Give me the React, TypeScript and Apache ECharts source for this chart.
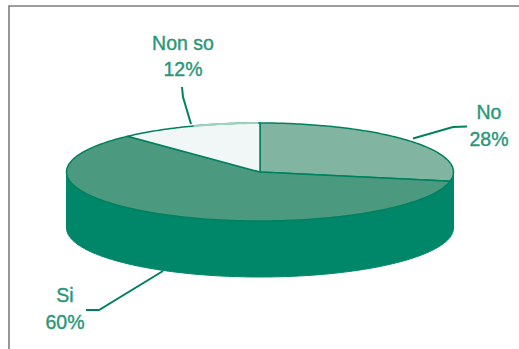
import React, { useEffect, useRef } from "react";
import * as echarts from "echarts";

// Survey answers, in clockwise order from twelve o'clock.
const categories = ["No", "Si", "Non so"];
const shares = [28, 60, 12];
const percentLabels = ["28%", "60%", "12%"];

const topColors = ["#82b5a1", "#4b9a80", "#f1f7f6"];
const WALL = "#00876a";
const EDGE = "#00805f";
const PALE_RIM = "#a3d0c0";
const TEXT = "#2a9777";
const FONT = '19.5px "Liberation Sans", Arial, sans-serif';

// Disc geometry: a tilted circle seen as an ellipse, with a cylindrical wall below it.
const CX = 260;
const CY = 172;
const RX = 193.5;
const RY = 49;
const DEPTH = 56;

// Callout layout for each slice: label centre and leader line.
const labelAnchors = [
  { x: 489, y1: 112, y2: 139 },
  { x: 65, y1: 295, y2: 322 },
  { x: 183, y1: 43, y2: 69 },
];
const leaders = [
  [[467, 126.5], [453, 127], [413, 138.5]],
  [[86, 310], [99, 310], [163, 271]],
  [[182, 87], [183, 97], [191, 124]],
];

// A clock angle (degrees from twelve o'clock) projected onto the ellipse.
const onRim = (deg: number, dy = 0): number[] => {
  const a = (deg * Math.PI) / 180;
  return [CX + RX * Math.sin(a), CY - RY * Math.cos(a) + dy];
};

const arcPoints = (from: number, to: number, dy = 0): number[][] => {
  const steps = Math.max(2, Math.ceil(Math.abs(to - from)));
  const pts: number[][] = [];
  for (let i = 0; i <= steps; i++) pts.push(onRim(from + ((to - from) * i) / steps, dy));
  return pts;
};

const total = shares.reduce((s, v) => s + v, 0);

const renderSlice = (params: any, api: any) => {
  const i = params.dataIndex;
  const value = api.value(0) as number;
  const before = shares.slice(0, i).reduce((s, v) => s + v, 0);
  const start = (before / total) * 360;
  const end = ((before + value) / total) * 360;

  const children: any[] = [];

  // The wall is only visible along the front half of the rim.
  const wallFrom = Math.max(start, 90);
  const wallTo = Math.min(end, 270);
  if (wallTo > wallFrom) {
    const upper = arcPoints(wallFrom, wallTo);
    const lower = arcPoints(wallTo, wallFrom, DEPTH);
    children.push({
      type: "polygon",
      shape: { points: [...upper, ...lower] },
      style: { fill: WALL, stroke: WALL, lineWidth: 1 },
    });
  }

  children.push({
    type: "polygon",
    shape: { points: [[CX, CY], ...arcPoints(start, end)] },
    style: { fill: topColors[i], stroke: EDGE, lineWidth: 1.5 },
  });

  // The last stretch of rim before twelve o'clock fades to a paler tint.
  if (end === 360) {
    children.push({
      type: "polyline",
      shape: { points: arcPoints(340, 359.4) },
      style: { fill: "none", stroke: PALE_RIM, lineWidth: 2 },
    });
  }

  children.push({
    type: "polyline",
    shape: { points: leaders[i] },
    style: { fill: "none", stroke: EDGE, lineWidth: 2 },
  });

  const anchor = labelAnchors[i];
  [
    { text: categories[i], y: anchor.y1 },
    { text: percentLabels[i], y: anchor.y2 },
  ].forEach((line) => {
    children.push({
      type: "text",
      style: {
        x: anchor.x,
        y: line.y,
        text: line.text,
        font: FONT,
        fill: TEXT,
        stroke: TEXT,
        lineWidth: 0.4,
        textAlign: "center",
        textVerticalAlign: "middle",
      },
    });
  });

  return { type: "group", children };
};

export default function App() {
  const ref = useRef<HTMLDivElement>(null);

  useEffect(() => {
    document.body.style.margin = "0";
    const chart = echarts.init(ref.current!, undefined, { renderer: "svg" });
    chart.setOption({
      animation: false,
      backgroundColor: "#ffffff",
      graphic: [
        {
          type: "rect",
          silent: true,
          shape: { x: 9, y: 6, width: 560, height: 400 },
          style: { fill: "none", stroke: "#7d7d7d", lineWidth: 1.6 },
        },
      ],
      series: [
        {
          type: "custom",
          coordinateSystem: "none",
          silent: true,
          clip: false,
          data: shares.map((v, i) => ({ name: categories[i], value: v })),
          renderItem: renderSlice,
        },
      ],
    });
    return () => chart.dispose();
  }, []);

  return <div ref={ref} style={{ width: 519, height: 349 }} />;
}
